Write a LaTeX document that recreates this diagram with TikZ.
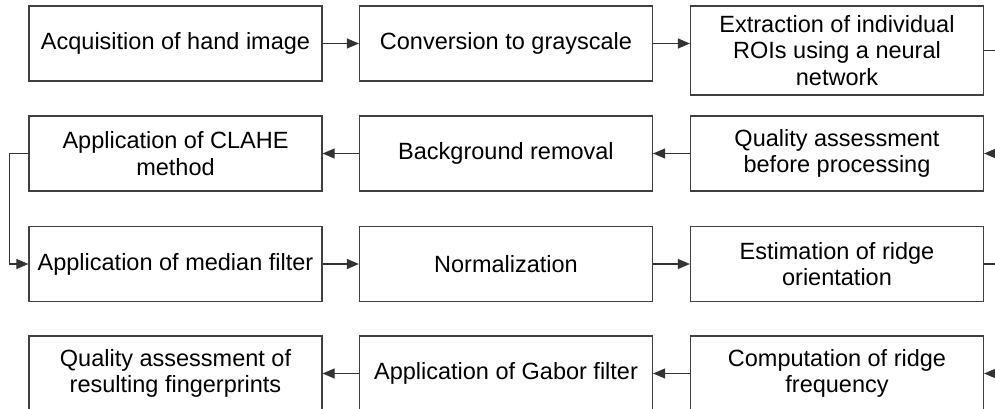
\documentclass[tikz,border=0pt]{standalone}
\usepackage{fontspec}
\setmainfont{Liberation Sans}
\usetikzlibrary{arrows.meta}

\begin{document}
\begin{tikzpicture}[x=1pt,y=-1pt,
  stepbox/.style={draw=black!75, line width=1.2pt, rectangle, inner sep=0pt,
    minimum width=293pt, minimum height=75pt, align=center,
    font=\fontsize{23.5}{26.5}\selectfont, text=black},
  link/.style={draw=black!80, line width=1.1pt},
  arr/.style={link, -{Triangle[length=12pt,width=10pt]}}]
  \useasboundingbox (0,0) rectangle (995,409);
  \clip (0,0) rectangle (995,409);
  \fill[white] (0,0) rectangle (995,409);

  % row 1
  \node[stepbox] (acq)  at (175.5,43.5) {Acquisition of hand image};
  \node[stepbox] (gray) at (506,43.5) {Conversion to grayscale};
  \node[stepbox, minimum height=89pt] (roi) at (837,50.5)
    {Extraction of individual\\ROIs using a neural\\network};
  % row 2
  \node[stepbox] (clahe) at (175.5,153.5) {Application of CLAHE\\method};
  \node[stepbox] (bg)    at (506,153.5) {Background removal};
  \node[stepbox] (qual)  at (837,153.5) {Quality assessment\\before processing};
  % row 3
  \node[stepbox] (median) at (175.5,264) {Application of median filter};
  \node[stepbox] (norm)   at (506,264) {Normalization};
  \node[stepbox] (orient) at (837,264) {Estimation of ridge\\orientation};
  % row 4
  \node[stepbox] (result) at (175.5,373.5) {Quality assessment of\\resulting fingerprints};
  \node[stepbox] (gabor)  at (506,373.5) {Application of Gabor filter};
  \node[stepbox] (freq)   at (837,373.5) {Computation of ridge\\frequency};

  % stubs at the right margin
  \coordinate (roiout)   at (995,50.5);
  \coordinate (qualin)   at (995,153.5);
  \coordinate (orientout) at (995,264);
  \coordinate (freqin)   at (995,373.5);

  % connectors
  \draw[arr] (acq) -- (gray);
  \draw[arr] (gray) -- (gray.east -| roi.west);
  \draw[link] (roi.east) -- (roiout);
  \draw[arr] (qualin) -- (qual.east);
  \draw[arr] (qual) -- (bg);
  \draw[arr] (bg) -- (clahe);
  \draw[arr] (clahe.west) -- ++(-19,0) |- (median.west);
  \draw[arr] (median) -- (norm);
  \draw[arr] (norm) -- (orient);
  \draw[link] (orient.east) -- (orientout);
  \draw[arr] (freqin) -- (freq.east);
  \draw[arr] (freq) -- (gabor);
  \draw[arr] (gabor) -- (result);
\end{tikzpicture}
\end{document}
